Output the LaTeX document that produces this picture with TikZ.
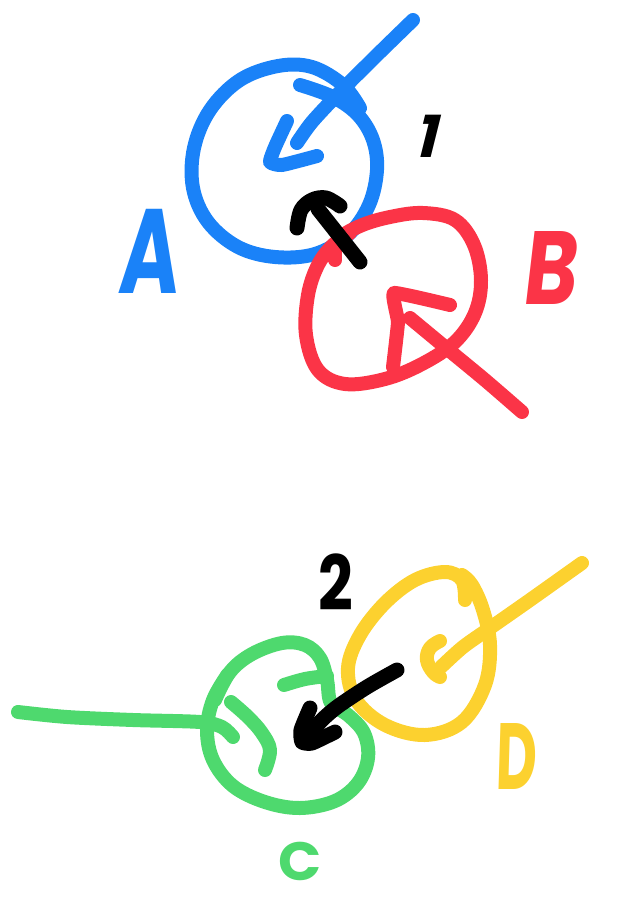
\documentclass[tikz,border=0pt]{standalone}
\usepackage{fontspec}
\newfontfamily\handfont{Poppins}
\definecolor{skblue}{HTML}{1A82F8}
\definecolor{skred}{HTML}{FB3447}
\definecolor{skgreen}{HTML}{4ED96E}
\definecolor{skyellow}{HTML}{FCD12F}
\tikzset{
  pen/.style={line width=14pt, line cap=round, line join=round},
  blackpen/.style={pen, line width=15pt, black},
  lbl/.style={inner sep=0pt, font=\handfont\bfseries},
}
\begin{document}
\begin{tikzpicture}[x=1pt, y=-1pt]
\useasboundingbox (0,0) rectangle (626,900);
% ---------- circle A (blue)
\draw[pen, skblue] plot[smooth, tension=0.6] coordinates {(300,85) (333,97) (358,115) (373,140) (377,170) (369,205) (348,235) (315,254) (275,257) (238,247) (208,222) (193,188) (194,148) (210,110) (240,80) (278,66) (312,67) (343,85) (360,108)};
\coordinate (ablue0) at (413,20);
\coordinate (ablue1) at (297,143);
\draw[pen, skblue] plot[smooth, tension=0.5] coordinates {(ablue0) (375,57) (340,92) (312,122) (ablue1)};
\draw[pen, skblue] plot[smooth, tension=0.3] coordinates {(287,121) (275,147) (270,162) (282,165) (317,156)};
\node[lbl, skblue, font=\handfont\bfseries\fontsize{120}{120}\selectfont, xscale=0.68, xslant=0.12, transform shape] (labA) at (151,251) {A};
% ---------- circle B (red)
\draw[pen, skred] plot[smooth, tension=0.6] coordinates {(335,260) (338,240) (360,226) (390,217) (423,213) (455,220) (474,245) (481,280) (475,313) (455,342) (422,364) (385,379) (345,384) (318,370) (306,335) (308,295) (318,265) (333,245) (350,233)};
\coordinate (ared0) at (522,412);
\coordinate (ared1) at (410,318);
\draw[pen, skred] plot[smooth, tension=0.5] coordinates {(ared0) (485,380) (445,347) (ared1)};
\draw[pen, skred] plot[smooth, tension=0.2] coordinates {(393,367) (398,322) (394,293) (450,305)};
\node[lbl, skred, font=\handfont\bfseries\fontsize{104}{104}\selectfont, xscale=0.78, xslant=0.15, transform shape] (labB) at (552,268) {B};
% ---------- arrow 1 (black)
\coordinate (a1s) at (360,262);
\coordinate (a1e) at (318,209);
\draw[blackpen] (a1s) -- (a1e);
\draw[blackpen] plot[smooth, tension=0.6] coordinates {(297,228) (301,210) (312,200) (326,198) (340,206)};
\node[lbl, black, font=\handfont\bfseries\fontsize{58}{58}\selectfont, xslant=0.25, transform shape] (lab1) at (430,136) {1};
% ---------- circle C (green)
\draw[pen, skgreen] plot[smooth, tension=0.6] coordinates {(215,700) (230,672) (252,654) (282,643) (305,645) (320,658) (327,680) (331,703) (348,715) (364,733) (368,758) (358,783) (335,801) (300,808) (265,802) (233,786) (213,760) (207,730) (213,700) (228,674)};
\coordinate (gl0) at (18,712);
\coordinate (gl1) at (233,737);
\draw[pen, skgreen] plot[smooth, tension=0.5] coordinates {(gl0) (67,717) (133,720) (200,722) (222,727) (gl1)};
\draw[pen, skgreen] plot[smooth, tension=0.6] coordinates {(231,702) (248,717) (262,733) (270,750) (265,770)};
\draw[pen, skgreen] plot[smooth, tension=0.6] coordinates {(284,685) (305,679) (327,676)};
\node[lbl, skgreen, font=\handfont\bfseries\fontsize{54}{54}\selectfont, xscale=1.05, transform shape] (labC) at (300,861) {C};
% ---------- circle D (yellow)
\draw[pen, skyellow] plot[smooth, tension=0.6] coordinates {(465,600) (462,580) (445,572) (415,580) (385,603) (360,635) (348,668) (356,700) (385,725) (425,735) (462,722) (485,685) (490,645) (483,610) (472,585) (462,575)};
\coordinate (ay0) at (582,563);
\coordinate (ay1) at (441,667);
\draw[pen, skyellow] plot[smooth, tension=0.5] coordinates {(ay0) (530,600) (490,628) (463,647) (ay1)};
\draw[pen, skyellow] plot[smooth, tension=0.7] coordinates {(440,641) (430,648) (427,660) (433,672) (440,677)};
\node[lbl, skyellow, font=\handfont\bfseries\fontsize{94}{94}\selectfont, xscale=0.6, xslant=0.05, transform shape] (labD) at (517,756) {D};
% ---------- arrow 2 (black)
\coordinate (a2s) at (397,670);
\coordinate (a2e) at (313,733);
\draw[blackpen] plot[smooth, tension=0.5] coordinates {(a2s) (367,687) (337,707) (320,722) (a2e)};
\draw[blackpen] plot[smooth, tension=0.3] coordinates {(310,708) (301,730) (302,742) (312,743) (335,732)};
\node[lbl, black, font=\handfont\bfseries\fontsize{76}{76}\selectfont, xscale=0.8, transform shape] (lab2) at (336,582) {2};
\end{tikzpicture}
\end{document}
